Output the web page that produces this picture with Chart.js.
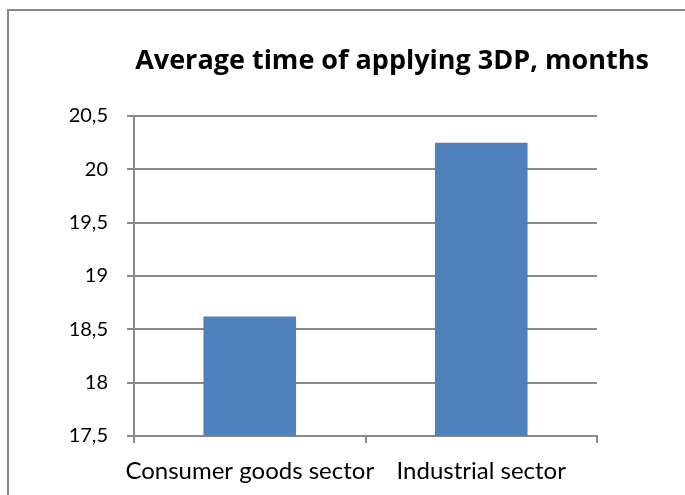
<!DOCTYPE html>
<html>
<head>
<meta charset="utf-8">
<script src="https://cdn.jsdelivr.net/npm/chart.js@4"></script>
<style>
    html, body { margin: 0; padding: 0; background: #fff; }
    #wrap { position: relative; width: 685px; height: 495px; overflow: hidden; }
    #frame {
        position: absolute; left: 7px; top: 9px; width: 720px; height: 520px;
        border-left: 2px solid #888; border-top: 2px solid #888;
        pointer-events: none;
    }
    canvas { position: absolute; left: 0; top: 0; }
</style>
</head>
<body>
<div id="wrap">
    <canvas id="chart" width="685" height="495"></canvas>
    <div id="frame"></div>
</div>
<script>
// Datos del gráfico
const categories = ['Consumer goods sector', 'Industrial sector'];
const avgMonths = [18.62, 20.25];
const yMin = 17.5;
const yMax = 20.5;
const yStep = 0.5;
const chartTitle = 'Average time of applying 3DP, months';

const gridColor = '#8a8a8a';
const font = "Lato, 'Open Sans', sans-serif";

// Desplaza el título a la derecha, como en el original
const titleShift = {
    id: 'titleShift',
    afterLayout(chart) {
        if (chart.titleBlock) {
            chart.titleBlock.left = 99;
            chart.titleBlock.right = 685;
        }
    }
};

new Chart(document.getElementById('chart'), {
    type: 'bar',
    data: {
        labels: categories,
        datasets: [{
            data: avgMonths,
            backgroundColor: '#4f81bd',
            barPercentage: 0.4,
            categoryPercentage: 1
        }]
    },
    options: {
        responsive: false,
        animation: false,
        layout: { padding: { left: 0, right: 88, top: 0, bottom: 0 } },
        plugins: {
            legend: { display: false },
            tooltip: { enabled: false },
            title: {
                display: true,
                text: chartTitle,
                color: '#000',
                font: { family: "'Open Sans', sans-serif", size: 27, weight: 'bold', lineHeight: 1.2 },
                padding: { top: 45, bottom: 38.6 }
            }
        },
        scales: {
            x: {
                grid: {
                    offset: true,
                    drawOnChartArea: false,
                    color: gridColor,
                    lineWidth: 2,
                    tickLength: 7
                },
                border: { color: gridColor, width: 2 },
                ticks: {
                    color: '#000',
                    font: { family: font, size: 24 },
                    padding: 14,
                    maxRotation: 0,
                    autoSkip: false
                },
                afterFit(scale) { scale.height = 59; }
            },
            y: {
                min: yMin,
                max: yMax,
                grid: { color: gridColor, lineWidth: 2, tickLength: 7 },
                border: { color: gridColor, width: 2 },
                ticks: {
                    stepSize: yStep,
                    color: '#000',
                    font: { family: font, size: 20 },
                    padding: 19,
                    callback: v => String(v).replace('.', ',')
                },
                afterFit(scale) { scale.width = 134; }
            }
        }
    },
    plugins: [titleShift]
});
</script>
</body>
</html>
